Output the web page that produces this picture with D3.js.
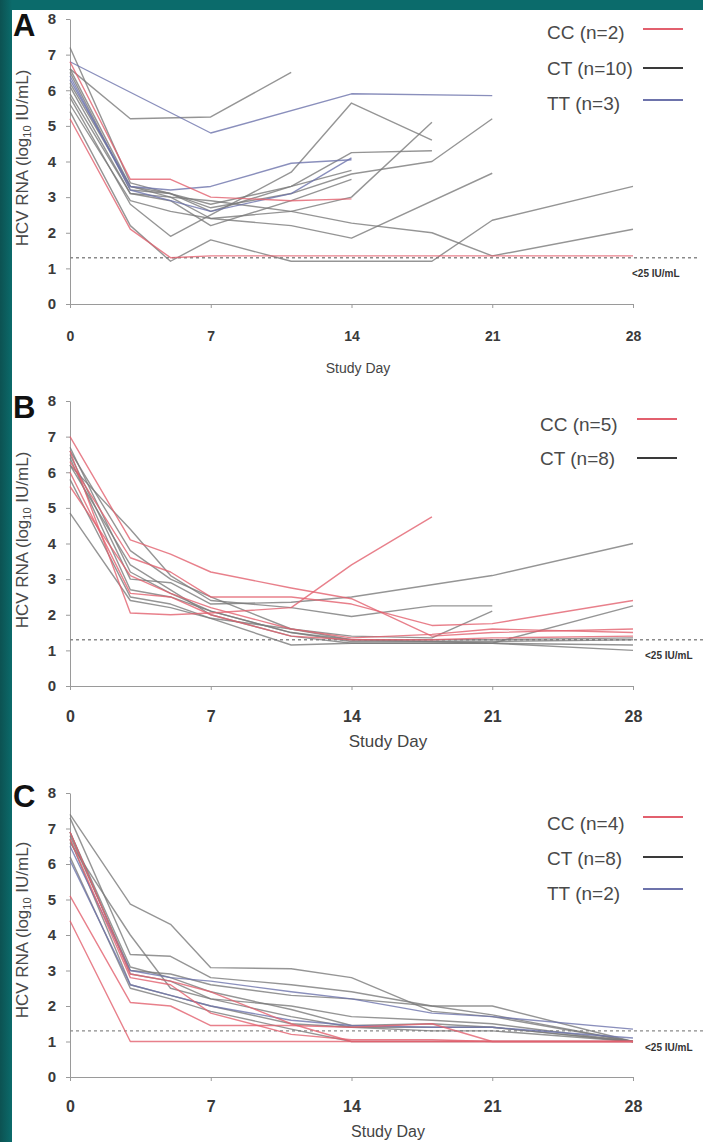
<!DOCTYPE html>
<html><head><meta charset="utf-8">
<script src="https://cdn.jsdelivr.net/npm/d3@7"></script>
<style>
body{margin:0;background:#fff}
svg{display:block}
text{font-family:"Liberation Sans",Arial,Helvetica,sans-serif}
</style>
</head><body>
<svg id="chart" width="703" height="1142"></svg>
<script>
// ---------------- data ----------------
const days   = [0, 3, 5, 7, 11, 14, 18, 21, 28];
const xTicks = [0, 7, 14, 21, 28];
const yTicks = [0, 1, 2, 3, 4, 5, 6, 7, 8];
const groups = ["CC", "CT", "TT"];
const lloq = 1.3;
const lloqLabel = "<25 IU/mL";
const xTitle = "Study Day";

// Panel A
const a_CC = [
  [6.8, 3.5, 3.5, 3.0, 2.9, 2.95, null, null, null],
  [5.2, 2.1, 1.3, 1.35, 1.35, 1.35, 1.35, 1.35, 1.35]
];
const a_CT = [
  [6.6, 5.2, null, 5.25, 6.5, null, null, null, null],
  [5.4, 2.2, 1.2, 1.8, 1.2, 1.2, 1.2, 2.35, 3.3],
  [5.8, 2.8, 1.9, 2.5, 3.7, 5.64, 4.6, null, null],
  [6.2, 3.3, 3.1, 2.6, 3.3, 4.25, 4.3, null, null],
  [6.5, 3.2, 3.1, 2.7, 3.1, 3.65, 4.0, 5.2, null],
  [5.6, 2.9, 2.6, 2.4, 2.2, 1.85, null, 3.67, null],
  [6.1, 3.1, 3.0, 2.4, 2.6, 3.0, 5.1, null, null],
  [6.6, 3.3, 3.0, 2.9, 2.6, 2.27, 2.0, 1.35, 2.1],
  [5.9, 3.1, 2.9, 2.2, 2.9, 3.5, null, null, null],
  [7.2, 3.4, 3.1, 2.8, 3.3, 3.75, null, null, null]
];
const a_TT = [
  [6.8, null, null, 4.8, null, 5.9, null, 5.85, null],
  [6.3, 3.3, 3.2, 3.3, 3.95, 4.05, null, null, null],
  [6.4, 3.2, 2.9, 2.6, 3.1, 4.1, null, null, null]
];
const legendA = ["CC (n=2)", "CT (n=10)", "TT (n=3)"];

// Panel B
const b_CC = [
  [7.0, 4.1, 3.7, 3.2, 2.75, 2.45, 1.4, 1.5, 1.6],
  [6.6, 2.05, 2.0, 2.05, 2.2, 3.4, 4.75, null, null],
  [6.3, 3.6, 3.2, 2.5, 2.5, 2.3, 1.7, 1.75, 2.4],
  [6.0, 2.6, 2.5, 2.0, 1.4, 1.3, 1.3, 1.35, 1.4],
  [5.6, 3.1, 2.6, 2.2, 1.6, 1.35, 1.45, 1.6, 1.5]
];
const b_CT = [
  [6.5, 3.0, 2.9, 2.3, 2.35, 2.5, null, 3.1, 4.0],
  [6.2, 4.4, 3.1, 2.4, 2.2, 1.95, 2.25, 2.25, null],
  [4.85, 2.4, 2.2, 1.9, 1.6, 1.4, 1.35, 2.1, null],
  [6.4, 2.7, 2.5, 2.1, 1.5, 1.3, 1.25, 1.2, 2.25],
  [5.8, 2.5, 2.3, 1.9, 1.15, 1.2, 1.2, 1.2, 1.0],
  [6.7, 3.2, 2.6, 2.1, 1.5, 1.25, null, 1.25, 1.3],
  [6.2, 3.4, 2.7, 2.0, 1.4, 1.2, null, 1.2, 1.15],
  [6.6, 3.8, 3.0, 2.5, 1.6, 1.3, null, 1.3, 1.35]
];
const b_TT = [];
const legendB = ["CC (n=5)", "CT (n=8)"];

// Panel C
const c_CC = [
  [4.4, 1.0, 1.0, 1.0, 1.0, 1.0, 1.0, 1.0, 1.0],
  [5.1, 2.1, 2.0, 1.45, 1.45, 1.4, 1.5, 1.0, 1.0],
  [6.9, 2.9, 2.7, 2.4, 1.5, 1.0, 1.0, 1.0, 1.0],
  [6.7, 2.8, 2.6, 1.8, 1.2, 1.05, 1.05, 1.0, 1.0]
];
const c_CT = [
  [7.4, 4.87, 4.3, 3.08, 3.05, 2.8, 1.85, 1.7, 1.0],
  [7.3, 3.45, 3.4, 2.8, 2.6, 2.4, 2.0, 1.75, 1.0],
  [6.8, 3.0, 2.9, 2.6, 2.3, 2.2, 2.0, 2.0, 1.0],
  [6.9, 2.9, 2.7, 2.2, 1.7, 1.4, 1.4, 1.4, 1.0],
  [6.7, 2.6, 2.3, 2.0, 1.5, 1.4, 1.3, 1.3, 1.0],
  [6.2, 2.5, 2.2, 1.85, 1.35, 1.0, 1.0, 1.0, 1.0],
  [6.9, 3.1, 2.8, 2.4, 1.9, 1.45, 1.5, 1.4, 1.0],
  [6.6, 4.0, 2.5, 2.2, 2.0, 1.7, 1.6, 1.5, 1.0]
];
const c_TT = [
  [6.5, 3.0, 2.8, 2.7, 2.4, 2.2, 1.8, 1.7, 1.35],
  [6.1, 2.6, 2.3, 2.0, 1.6, 1.45, 1.4, 1.4, 1.1]
];
const legendC = ["CC (n=4)", "CT (n=8)", "TT (n=2)"];

// ---------------- styling / layout ----------------
const colors = {CC: "#e2606e", CT: "#7a7a7a", TT: "#6d73ab"};
const legendColors = {CC: "#e2606e", CT: "#3a3a3a", TT: "#6d73ab"};

const panels = [
  {letter: "A", CC: a_CC, CT: a_CT, TT: a_TT, legend: legendA,
   yBottom: 304, yTop: 19, letterY: 36, xLabPad: 23, xLabSize: 14,
   titleY: 373, titleX: 358, titleSize: 14, ylabCenter: 158,
   legX: 547, legLineX: 643, legTextY: [39, 75, 110], legLineY: [29, 68, 100],
   lloqEnd: 697, lloqX: 632, lloqY: 277},
  {letter: "B", CC: b_CC, CT: b_CT, TT: b_TT, legend: legendB,
   yBottom: 686, yTop: 401, letterY: 418, xLabPad: 21, xLabSize: 16,
   titleY: 747, titleX: 388, titleSize: 17, ylabCenter: 540,
   legX: 540, legLineX: 637, legTextY: [431, 465], legLineY: [419, 458],
   lloqEnd: 703, lloqX: 645, lloqY: 659},
  {letter: "C", CC: c_CC, CT: c_CT, TT: c_TT, legend: legendC,
   yBottom: 1077, yTop: 793, letterY: 807, xLabPad: 20, xLabSize: 16,
   titleY: 1137, titleX: 388, titleSize: 16, ylabCenter: 930,
   legX: 547, legLineX: 643, legTextY: [830, 865, 900], legLineY: [817, 857, 889],
   lloqEnd: 703, lloqX: 645, lloqY: 1051}
];

const svg = d3.select("#chart");
svg.append("rect").attr("width", 703).attr("height", 1142).attr("fill", "#fff");

const x = d3.scaleLinear().domain([0, 28]).range([70, 633]);

panels.forEach(p => {
  const y = d3.scaleLinear().domain([0, 8]).range([p.yBottom, p.yTop]);
  const g = svg.append("g");

  // axes
  const ya = g.append("g").attr("transform", "translate(70,0)")
    .call(d3.axisLeft(y).tickValues(yTicks).tickSize(4).tickSizeOuter(0).tickPadding(10));
  ya.selectAll("text").attr("font-size", 15).attr("font-weight", "bold").attr("fill", "#3a3a3a")
    .style("font-family", "'Liberation Sans',Arial,sans-serif");
  ya.select(".domain").attr("stroke", "#9a9a9a");
  ya.selectAll(".tick line").attr("stroke", "#9a9a9a");

  const xa = g.append("g").attr("transform", `translate(0,${p.yBottom})`)
    .call(d3.axisBottom(x).tickValues(xTicks).tickSize(4).tickSizeOuter(0).tickPadding(p.xLabPad));
  xa.selectAll("text").attr("font-size", p.xLabSize).attr("font-weight", "bold").attr("fill", "#3a3a3a")
    .style("font-family", "'Liberation Sans',Arial,sans-serif");
  xa.select(".domain").attr("stroke", "#9a9a9a");
  xa.selectAll(".tick line").attr("stroke", "#9a9a9a");

  // LLOQ dashed line
  g.append("line").attr("x1", x(0)).attr("x2", p.lloqEnd)
    .attr("y1", y(lloq)).attr("y2", y(lloq))
    .attr("stroke", "#8a8a8a").attr("stroke-width", 1.4).attr("stroke-dasharray", "3,3");
  g.append("text").attr("x", p.lloqX).attr("y", p.lloqY)
    .attr("font-size", 10).attr("font-weight", "bold").attr("fill", "#333")
    .text(lloqLabel);

  // series
  const line = d3.line().x(d => x(d[0])).y(d => y(d[1]));
  const order = ["CT", "TT", "CC"];
  order.forEach(k => {
    p[k].forEach(vals => {
      const pts = days.map((d, i) => [d, vals[i]]).filter(d => d[1] !== null);
      g.append("path").attr("d", line(pts)).attr("fill", "none")
        .attr("stroke", colors[k]).attr("stroke-width", 1.4)
        .attr("stroke-opacity", 0.8).attr("stroke-linejoin", "round");
    });
  });

  // legend
  p.legend.forEach((t, i) => {
    const k = groups[i];
    g.append("text").attr("x", p.legX).attr("y", p.legTextY[i])
      .attr("font-size", 19).attr("fill", "#4a4a4a").text(t);
    g.append("line").attr("x1", p.legLineX).attr("x2", p.legLineX + 40)
      .attr("y1", p.legLineY[i]).attr("y2", p.legLineY[i])
      .attr("stroke", legendColors[k]).attr("stroke-width", 1.8);
  });

  // axis titles
  g.append("text").attr("x", p.titleX).attr("y", p.titleY).attr("text-anchor", "middle")
    .attr("font-size", p.titleSize).attr("fill", "#444").text(xTitle);
  const yl = g.append("text").attr("transform", `translate(28,${p.ylabCenter}) rotate(-90)`)
    .attr("text-anchor", "middle").attr("font-size", 17).attr("fill", "#4a4a4a");
  yl.append("tspan").text("HCV RNA (log");
  yl.append("tspan").attr("font-size", 11).attr("dy", 3).text("10");
  yl.append("tspan").attr("dy", -3).text(" IU/mL)");

  // panel letter
  g.append("text").attr("x", 13).attr("y", p.letterY).attr("font-size", 31)
    .attr("font-weight", "bold").attr("fill", "#111").text(p.letter);
});

// teal frame
const grad = svg.append("defs").append("linearGradient").attr("id", "lg");
grad.append("stop").attr("offset", "0%").attr("stop-color", "#0c5252");
grad.append("stop").attr("offset", "100%").attr("stop-color", "#0b6b6b");
svg.append("rect").attr("x", 0).attr("y", 0).attr("width", 703).attr("height", 10).attr("fill", "#0b6b6b");
svg.append("rect").attr("x", 0).attr("y", 0).attr("width", 12).attr("height", 1142).attr("fill", "url(#lg)");
</script>
</body></html>
